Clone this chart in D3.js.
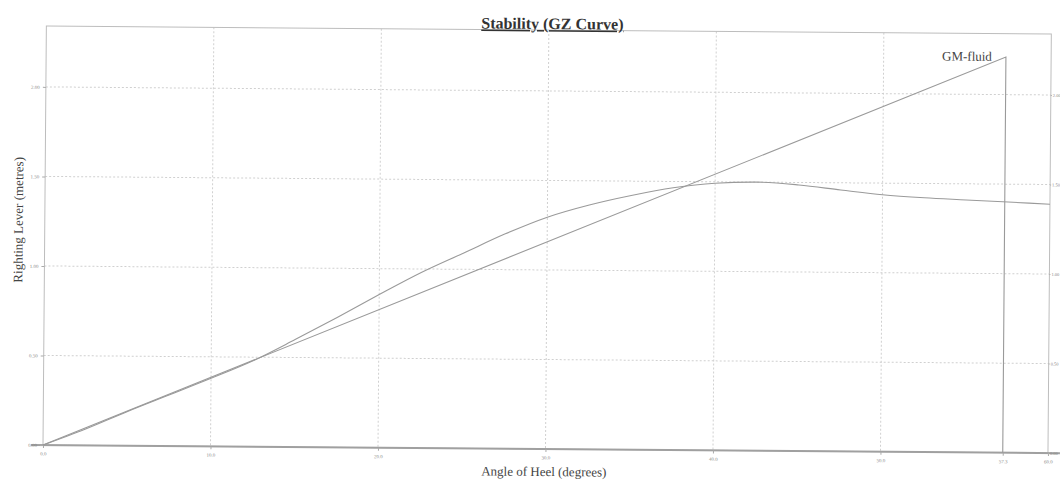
<!DOCTYPE html>
<html>
<head>
<meta charset="utf-8">
<script src="https://cdn.jsdelivr.net/npm/d3@7"></script>
<style>
    body { margin: 0; background: #fff; }
    svg { display: block; }
    text { font-family: "Liberation Serif", "DejaVu Serif", serif; }
</style>
</head>
<body>
<svg></svg>
<script>
// data
const hoeken = [0, 2.5, 5, 7.5, 10, 12.5, 15, 17.5, 20, 22.5, 25, 27.5, 30, 32.5, 35, 37.5, 40, 42.5, 45, 47.5, 50, 52.5, 55, 57.5, 60]
const gz = [0, 0.09, 0.19, 0.285, 0.38, 0.48, 0.6, 0.725, 0.855, 0.98, 1.09, 1.2, 1.295, 1.365, 1.42, 1.465, 1.492, 1.5, 1.486, 1.46, 1.435, 1.42, 1.41, 1.4, 1.39]
const gmHoeken = [0, 57.3, 57.3]
const gmWaarden = [0, 2.21, 0]
const xTicks = [0, 10, 20, 30, 40, 50, 57.3, 60]
const xTickLabels = ["0.0", "10.0", "20.0", "30.0", "40.0", "50.0", "57.3", "60.0"]
const yTicks = [0, 0.5, 1, 1.5, 2]
const yTickLabels = ["0.00", "0.50", "1.00", "1.50", "2.00"]

const width = 1060
const height = 481
const links = 43, rechts = 1048, boven = 26, onder = 445

const svg = d3.select('svg')
    .attr("width", width)
    .attr("height", height)

// scan is a little scheef
const g = svg.append('g')
    .attr("transform", `rotate(0.46, ${links}, ${onder})`)

const x = d3.scaleLinear().domain([0, 60]).range([links, rechts])
const y = d3.scaleLinear().domain([0, 2.34]).range([onder, boven])

// gridlines
g.append('g')
    .selectAll('line')
    .data(yTicks.slice(1))
    .enter()
    .append('line')
    .attr("x1", links).attr("x2", rechts)
    .attr("y1", d => y(d)).attr("y2", d => y(d))
    .attr("stroke", "#d0d0d0")
    .attr("stroke-dasharray", "2,2")

g.append('g')
    .selectAll('line')
    .data(xTicks.filter(d => d > 0 && d < 57))
    .enter()
    .append('line')
    .attr("x1", d => x(d)).attr("x2", d => x(d))
    .attr("y1", boven).attr("y2", onder)
    .attr("stroke", "#d0d0d0")
    .attr("stroke-dasharray", "2,2")

// frame
g.append('rect')
    .attr("x", links).attr("y", boven)
    .attr("width", rechts - links).attr("height", onder - boven)
    .attr("fill", "none")
    .attr("stroke", "#bdbdbd")
    .attr("stroke-width", 1)

g.append('line')
    .attr("x1", links - 12).attr("x2", width)
    .attr("y1", onder).attr("y2", onder)
    .attr("stroke", "#a0a0a0")
    .attr("stroke-width", 2)

// axes
const xAxis = d3.axisBottom(x)
    .tickValues(xTicks)
    .tickFormat((d, i) => xTickLabels[i])
    .tickSize(3)

const xas = g.append('g')
    .attr("transform", `translate(0, ${onder})`)
    .call(xAxis)
xas.select('.domain').remove()
xas.selectAll('line').attr("stroke", "#aaa")
xas.selectAll('text').attr("fill", "#888").attr("font-size", 5).attr("dy", "0.9em")

const yAxis = d3.axisLeft(y)
    .tickValues(yTicks)
    .tickFormat((d, i) => yTickLabels[i])
    .tickSize(3)

const yas = g.append('g')
    .attr("transform", `translate(${links}, 0)`)
    .call(yAxis)
yas.select('.domain').remove()
yas.selectAll('line').attr("stroke", "#aaa")
yas.selectAll('text').attr("fill", "#888").attr("font-size", 5)

const yAxisR = d3.axisRight(y)
    .tickValues(yTicks)
    .tickFormat((d, i) => yTickLabels[i])
    .tickSize(1)
    .tickPadding(1)

const yasR = g.append('g')
    .attr("transform", `translate(${rechts}, 0)`)
    .call(yAxisR)
yasR.select('.domain').remove()
yasR.selectAll('line').attr("stroke", "#aaa")
yasR.selectAll('text').attr("fill", "#888").attr("font-size", 4.5)

// lijnen
const lijn = d3.line()
    .x(d => x(d[0]))
    .y(d => y(d[1]))

g.append('path')
    .datum(gmHoeken.map((h, i) => [h, gmWaarden[i]]))
    .attr("d", lijn)
    .attr("fill", "none")
    .attr("stroke", "#9a9a9a")
    .attr("stroke-width", 1.1)

g.append('path')
    .datum(hoeken.map((h, i) => [h, gz[i]]))
    .attr("d", lijn.curve(d3.curveMonotoneX))
    .attr("fill", "none")
    .attr("stroke", "#9a9a9a")
    .attr("stroke-width", 1.1)

g.append('text')
    .text("GM-fluid")
    .attr("x", x(57.3) - 14)
    .attr("y", y(2.21) + 4)
    .attr("text-anchor", "end")
    .attr("font-size", 13)
    .attr("fill", "#444")

// teksten
g.append('text')
    .text("Stability (GZ Curve)")
    .attr("x", 549)
    .attr("y", 25)
    .attr("text-anchor", "middle")
    .attr("font-size", 16)
    .attr("font-weight", "bold")
    .attr("text-decoration", "underline")
    .attr("fill", "#333")

g.append('text')
    .text("Angle of Heel (degrees)")
    .attr("x", 544)
    .attr("y", 472)
    .attr("text-anchor", "middle")
    .attr("font-size", 13)
    .attr("fill", "#444")

g.append('text')
    .text("Righting Lever (metres)")
    .attr("transform", "translate(21, 220) rotate(-90)")
    .attr("text-anchor", "middle")
    .attr("font-size", 13)
    .attr("fill", "#444")
</script>
</body>
</html>
